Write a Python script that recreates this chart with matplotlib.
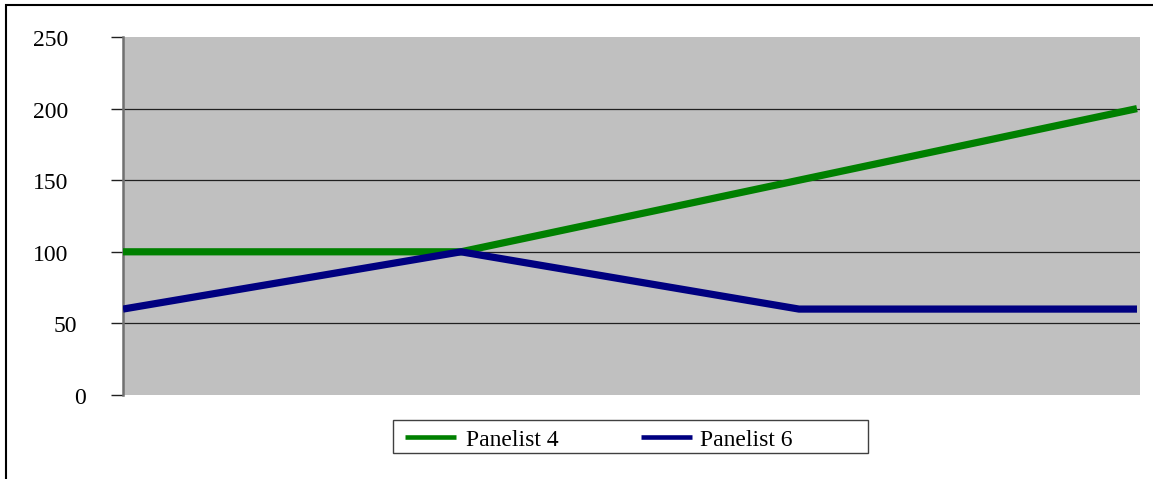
import matplotlib
matplotlib.use("Agg")
import matplotlib.pyplot as plt
from matplotlib.patches import Rectangle
from matplotlib.lines import Line2D
from matplotlib.transforms import blended_transform_factory, ScaledTranslation

categories = [1, 2, 3, 4]
panelist4 = [100, 100, 150, 200]
panelist6 = [60, 100, 60, 60]
series_names = ['Panelist 4', 'Panelist 6']
yticks = [0, 50, 100, 150, 200, 250]
ytick_labels = ['0', '50', '100', '150', '200', '250']

plt.rcParams['font.family'] = ['Liberation Serif', 'DejaVu Serif']

W, H = 1153, 479
fig = plt.figure(figsize=(W / 100, H / 100), dpi=100)
ax = fig.add_axes([123 / W, 1 - 395 / H, (1140 - 123) / W, (395 - 37) / H])
ax.set_facecolor('#C0C0C0')

colors = ['#008000', '#000080']
x = list(range(len(categories)))
ax.plot(x, panelist4, color=colors[0], lw=5.2, solid_capstyle='butt', zorder=3)
ax.plot(x, panelist6, color=colors[1], lw=5.2, solid_capstyle='butt', zorder=3)

ax.set_xlim(0, 3 * (1140 - 123) / (1137 - 123))
ax.set_ylim(0, 250)
ax.set_yticks(yticks)
ax.set_yticklabels([])
ax.set_xticks([])
for v in yticks[1:-1]:
    ax.axhline(v, color='#202020', lw=0.9, zorder=1)

# Excel-style labels (right edges shift for short labels)
trans = blended_transform_factory(fig.transFigure, ax.transData) + \
    ScaledTranslation(0, -9 / 100, fig.dpi_scale_trans)
right_edges = {'0': 86, '50': 77}
for v, lab in zip(yticks, ytick_labels):
    xr = right_edges.get(lab, 68)
    ax.text(xr / W, v, lab, transform=trans, ha='right', va='baseline', fontsize=17, clip_on=False)

for s in ['top', 'right', 'bottom']:
    ax.spines[s].set_visible(False)
ax.spines['left'].set_color('#707070')
ax.spines['left'].set_linewidth(1.8)
ax.tick_params(axis='y', direction='out', length=9, width=1, color='#202020')

# Legend drawn Excel-style: box 393-868 x 420-453 px
def fx(px):
    return px / W

def fy(py):
    return 1 - py / H

fig.add_artist(Rectangle((fx(393), fy(453)), fx(868) - fx(393), fy(420) - fy(453),
                         transform=fig.transFigure, fill=False, edgecolor='#404040', lw=1.0))
handle_x = [(405, 456), (641, 692)]
text_x = [466, 700]
for (x0, x1), tx, name, c in zip(handle_x, text_x, series_names, colors):
    fig.add_artist(Line2D([fx(x0), fx(x1)], [fy(437), fy(437)], transform=fig.transFigure,
                          color=c, lw=3.3, solid_capstyle='butt'))
    fig.text(fx(tx), fy(445.5), name, ha='left', va='baseline', fontsize=17)

fig.add_artist(Rectangle((6 / W, -0.1), 1.2, 1 - 5 / H + 0.1, transform=fig.transFigure,
                         fill=False, edgecolor='black', lw=1.5, clip_on=False))

fig.savefig('out.png', dpi=100)
